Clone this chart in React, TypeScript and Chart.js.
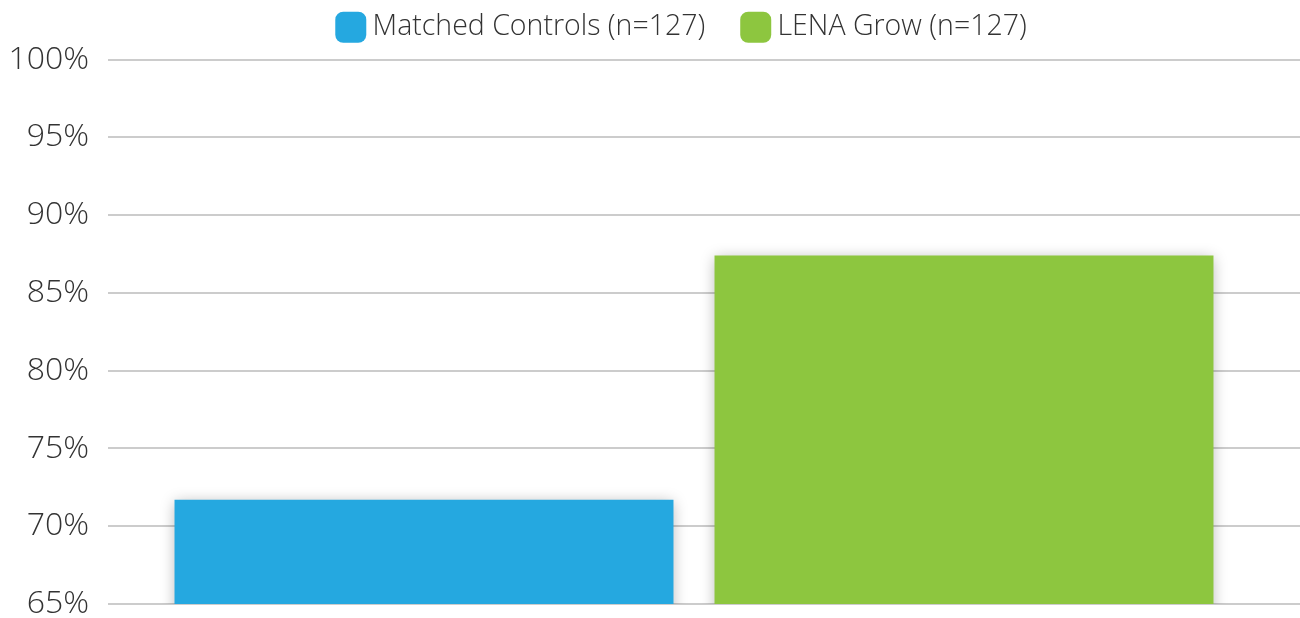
import React, { useEffect, useRef } from "react";
import { Chart, registerables } from "chart.js";

Chart.register(...registerables);

const categories = ["Outcome"];
const seriesNames = ["Matched Controls (n=127)", "LENA Grow (n=127)"];
const matchedControls = [71.7];
const lenaGrow = [87.4];
const seriesColors = ["#25a8e0", "#8dc63f"];
const yMin = 65;
const yMax = 100;
const yStep = 5;

const FONT = "'Open Sans', 'Noto Sans', sans-serif";

const gridAndShadow = {
  id: "gridAndShadow",
  afterLayout(chart: any) {
    if (chart.legend) {
      chart.legend.left += 45;
      chart.legend.right += 45;
      chart.legend.top -= 8;
      chart.legend.bottom -= 8;
    }
  },
  beforeDatasetsDraw(chart: any) {
    const { ctx, chartArea } = chart;
    const y = chart.scales.y;
    ctx.save();
    ctx.strokeStyle = "#cccccc";
    ctx.lineWidth = 2;
    y.ticks.forEach((t: any) => {
      const py = Math.round(y.getPixelForValue(t.value));
      ctx.beginPath();
      ctx.moveTo(chartArea.left, py);
      ctx.lineTo(chart.width, py);
      ctx.stroke();
    });
    ctx.restore();
    ctx.save();
    ctx.shadowColor = "rgba(0,0,0,0.28)";
    ctx.shadowBlur = 14;
    ctx.shadowOffsetX = 0;
    ctx.shadowOffsetY = 2;
  },
  afterDatasetsDraw(chart: any) {
    chart.ctx.restore();
  },
};

export default function App() {
  const ref = useRef<HTMLCanvasElement | null>(null);
  useEffect(() => {
    document.body.style.margin = "0";
    const chart = new Chart(ref.current as HTMLCanvasElement, {
      type: "bar",
      data: {
        labels: categories,
        datasets: [
          {
            label: seriesNames[0],
            data: matchedControls,
            backgroundColor: seriesColors[0],
            categoryPercentage: 0.9215,
            barPercentage: 0.924,
          },
          {
            label: seriesNames[1],
            data: lenaGrow,
            backgroundColor: seriesColors[1],
            categoryPercentage: 0.9215,
            barPercentage: 0.924,
          },
        ],
      },
      options: {
        animation: false,
        responsive: false,
        maintainAspectRatio: false,
        layout: { padding: { left: 0, right: 20, top: -22, bottom: 14 } },
        plugins: {
          tooltip: { enabled: false },
          legend: {
            position: "top",
            labels: {
              font: { family: FONT, size: 28.5, weight: "300" as any },
              color: "#333333",
              boxWidth: 15,
              boxHeight: 15,
              padding: 43,
              generateLabels: (chart: any) =>
                Chart.defaults.plugins.legend.labels
                  .generateLabels(chart)
                  .map((item: any) => ({
                    ...item,
                    strokeStyle: item.fillStyle,
                    lineWidth: 16,
                    lineJoin: "round",
                  })),
            },
          },
        },
        scales: {
          x: { display: false },
          y: {
            min: yMin,
            max: yMax,
            grid: { display: false },
            border: { display: false },
            afterFit: (scale: any) => {
              scale.width = 108;
              scale.paddingTop = 0;
              scale.paddingBottom = 0;
            },
            ticks: {
              stepSize: yStep,
              padding: 11,
              color: "#333333",
              font: { family: FONT, size: 32, weight: "300" as any },
              callback: (v: any) => v + "%",
            },
          },
        },
      },
      plugins: [gridAndShadow],
    });
    return () => chart.destroy();
  }, []);
  return (
    <div style={{ width: 1300, height: 618 }}>
      <canvas ref={ref} width={1300} height={618} />
    </div>
  );
}
